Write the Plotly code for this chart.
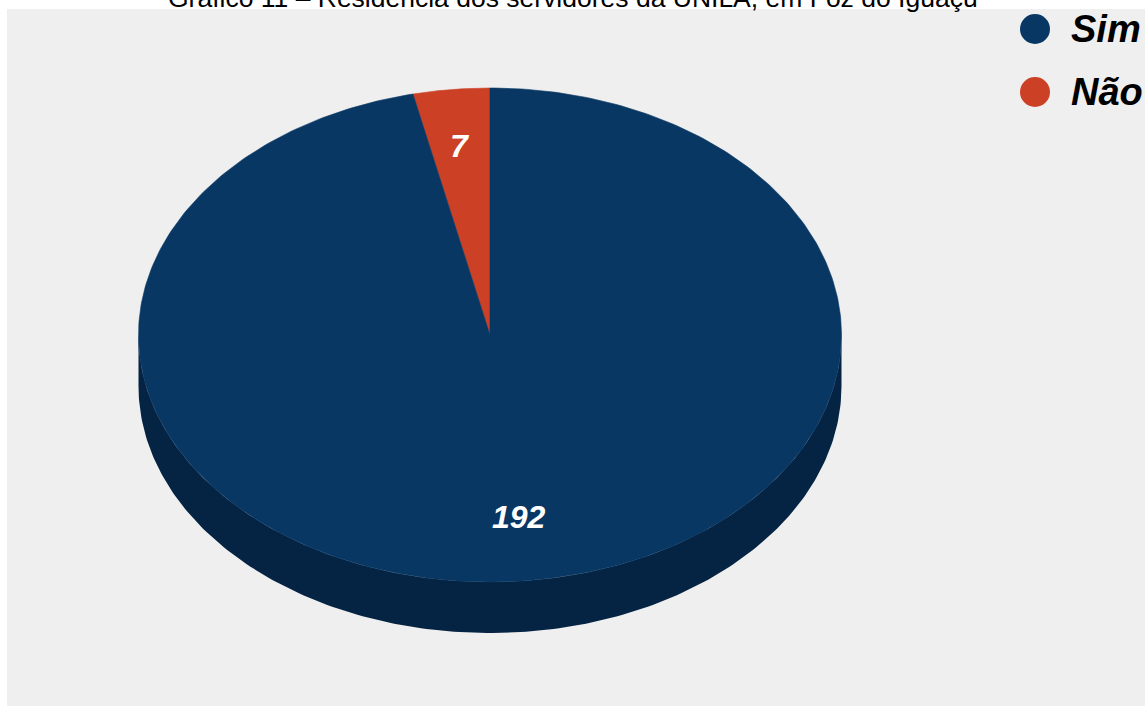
import numpy as np
import plotly.graph_objects as go

# Data
categories = ["Não", "Sim"]
values = [7, 192]
colors_top = ["#CC4125", "#083763"]
colors_side = ["#8F2C19", "#052443"]
title_text = "Gráfico 11 – Residência dos servidores da UNILA, em Foz do Iguaçu"

W, H = 1145, 706
FONT = "Liberation Sans, Arial, sans-serif"

# Pie geometry (pixel space, y grows downward)
cx, cy = 490, 335
rx, ry = 351.5, 247
depth = 51

def pt(theta_deg, dy=0.0):
    t = np.radians(theta_deg)
    return cx + rx * np.cos(t), cy - ry * np.sin(t) + dy

fig = go.Figure()

total = float(sum(values))
# Slices start at 12 o'clock and run counter-clockwise
starts, ends = [], []
a = 90.0
for v in values:
    span = 360.0 * v / total
    starts.append(a)
    ends.append(a + span)
    a += span

# Side walls (front half only: angles 180..360 mod 360)
for i, (s, e) in enumerate(zip(starts, ends)):
    for lo, hi in [(180, 360), (540, 720)]:
        a0, a1 = max(s, lo), min(e, hi)
        if a1 <= a0:
            continue
        th = np.linspace(a0, a1, 200)
        xs_top, ys_top = pt(th)
        xs_bot, ys_bot = pt(th[::-1], depth)
        fig.add_trace(go.Scatter(
            x=np.concatenate([xs_top, xs_bot]),
            y=np.concatenate([ys_top, ys_bot]),
            fill="toself", fillcolor=colors_side[i], mode="lines",
            line=dict(width=0, color=colors_side[i]),
            hoverinfo="skip", showlegend=False))

# Top faces
for i, (s, e) in enumerate(zip(starts, ends)):
    th = np.linspace(s, e, 400)
    xs, ys = pt(th)
    fig.add_trace(go.Scatter(
        x=np.concatenate([[cx], xs, [cx]]),
        y=np.concatenate([[cy], ys, [cy]]),
        fill="toself", fillcolor=colors_top[i], mode="lines",
        line=dict(width=0.6, color=colors_top[i]),
        hoverinfo="skip", showlegend=False))

# Value labels
label_r = [0.77, 0.74]
for i, (s, e) in enumerate(zip(starts, ends)):
    mid = np.radians((s + e) / 2)
    lx = cx + label_r[i] * rx * np.cos(mid)
    ly = cy - label_r[i] * ry * np.sin(mid)
    fig.add_annotation(x=lx, y=ly, text=f"<b><i>{values[i]}</i></b>", showarrow=False,
                       font=dict(family=FONT, size=32, color="white"),
                       xanchor="center", yanchor="middle")

# Legend (right-hand side)
leg_order = ["Sim", "Não"]
leg_y0, leg_dy = 29, 63
for j, name in enumerate(leg_order):
    k = categories.index(name)
    yy = leg_y0 + j * leg_dy
    fig.add_shape(type="circle", xref="x", yref="y",
                  x0=1035 - 15, x1=1035 + 15, y0=yy - 15, y1=yy + 15,
                  fillcolor=colors_top[k], line=dict(width=0), layer="above")
    fig.add_annotation(x=1069, y=yy, text=f"<b><i>{name}</i></b>", showarrow=False,
                       xanchor="left", yanchor="middle",
                       font=dict(family=FONT, size=38, color="#000000"))

# Title (sits at the very top of the page)
fig.add_annotation(x=573.0 / W, xref="paper", y=1 + 2.5 / H, yref="paper",
                   text=title_text, showarrow=False,
                   xanchor="center", yanchor="middle",
                   font=dict(family=FONT, size=26.5, color="#000000"))

# Grey chart area
fig.add_shape(type="rect", xref="x", yref="y", x0=7, x1=W + 5, y0=9, y1=H + 5,
              fillcolor="#EFEFEF", line=dict(width=0), layer="below")

fig.update_layout(
    width=W, height=H,
    margin=dict(l=0, r=0, t=0, b=0),
    paper_bgcolor="white", plot_bgcolor="white",
    xaxis=dict(range=[0, W], visible=False, fixedrange=True),
    yaxis=dict(range=[H, 0], visible=False, fixedrange=True),
    showlegend=False,
)

fig.write_html("out.html")
